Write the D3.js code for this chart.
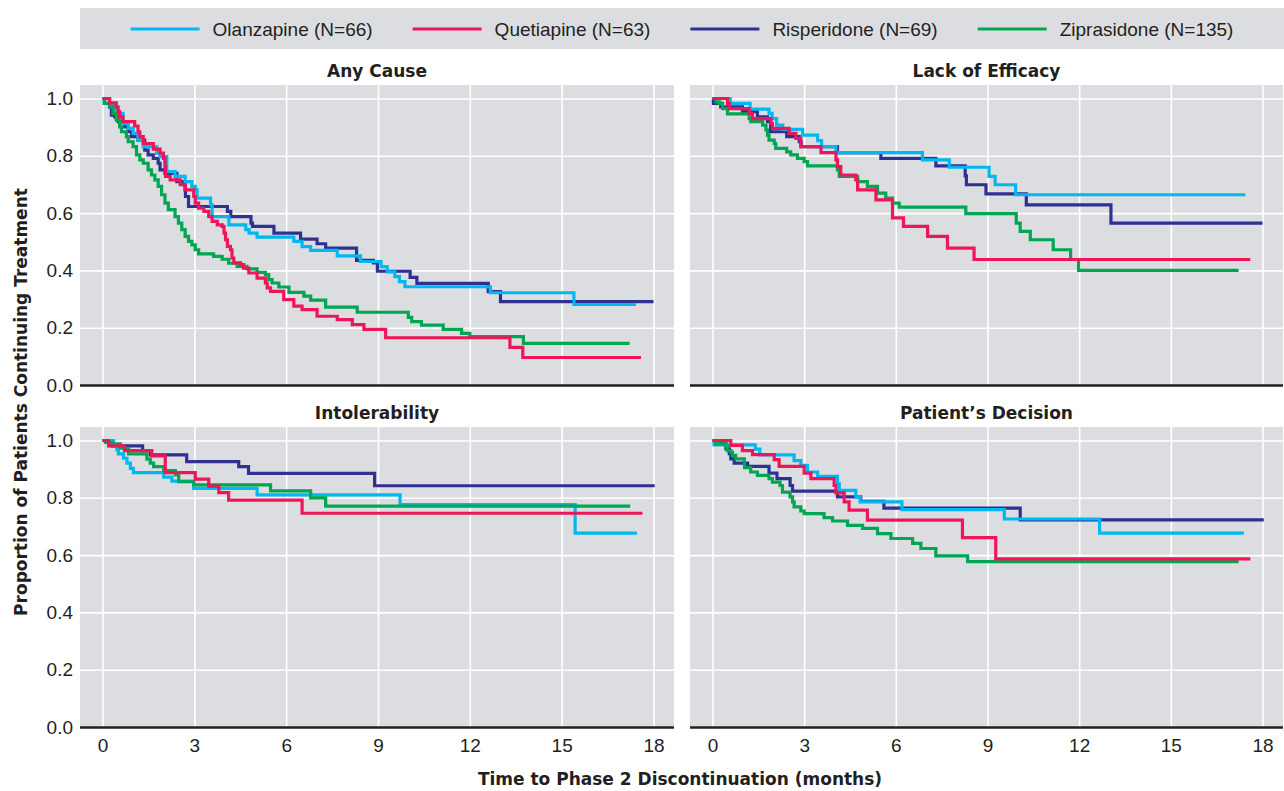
<!DOCTYPE html>
<html>
<head>
<meta charset="utf-8">
<script src="https://cdn.jsdelivr.net/npm/d3@7"></script>
<style>
    body { margin: 0; background: #ffffff; }
    svg text { font-family: "Liberation Sans", Arial, sans-serif; fill: #231f20; }
    svg text.bold { font-family: "DejaVu Sans", sans-serif; font-weight: bold; font-size: 17px; }
</style>
</head>
<body>
<div id="chart"></div>
<script>
// Tick values and labels
const months = [0, 3, 6, 9, 12, 15, 18];
const proportions = [0, 0.2, 0.4, 0.6, 0.8, 1.0];
const drugNames = ['Olanzapine (N=66)', 'Quetiapine (N=63)', 'Risperidone (N=69)', 'Ziprasidone (N=135)'];
const panelTitles = ['Any Cause', 'Lack of Efficacy', 'Intolerability', 'Patient\u2019s Decision'];

// Kaplan-Meier steps: [month, proportion after the step]
const anyCauseOlanzapine = [[0, 1], [0.05, 0.983], [0.23, 0.977], [0.4, 0.959], [0.51, 0.948], [0.67, 0.913], [0.84, 0.896], [1.0, 0.878], [1.16, 0.855], [1.33, 0.832], [1.77, 0.809], [1.88, 0.797], [2.1, 0.745], [2.37, 0.728], [2.7, 0.71], [2.92, 0.693], [3.03, 0.681], [3.09, 0.652], [3.53, 0.629], [3.58, 0.588], [4.13, 0.559], [4.68, 0.542], [4.79, 0.53], [5.05, 0.516], [6.25, 0.501], [6.52, 0.483], [6.8, 0.47], [7.67, 0.451], [8.43, 0.431], [9.1, 0.413], [9.3, 0.395], [9.55, 0.378], [9.7, 0.361], [9.88, 0.343], [12.67, 0.322], [15.4, 0.281], [17.43, 0.281]];
const anyCauseQuetiapine = [[0, 1], [0.23, 0.985], [0.45, 0.971], [0.51, 0.954], [0.56, 0.936], [0.67, 0.919], [1.05, 0.904], [1.16, 0.884], [1.22, 0.867], [1.33, 0.843], [1.66, 0.823], [1.88, 0.809], [1.99, 0.791], [2.04, 0.762], [2.06, 0.728], [2.21, 0.716], [2.54, 0.699], [2.7, 0.681], [2.98, 0.658], [3.03, 0.635], [3.14, 0.617], [3.31, 0.606], [3.47, 0.588], [3.58, 0.571], [3.75, 0.559], [3.91, 0.554], [3.97, 0.53], [4.02, 0.507], [4.08, 0.484], [4.18, 0.472], [4.23, 0.443], [4.29, 0.426], [4.51, 0.42], [4.61, 0.408], [4.78, 0.391], [5.05, 0.373], [5.32, 0.356], [5.38, 0.339], [5.49, 0.327], [5.92, 0.298], [6.25, 0.275], [6.52, 0.263], [7.01, 0.24], [7.67, 0.228], [8.16, 0.211], [8.54, 0.194], [9.25, 0.165], [13.31, 0.131], [13.73, 0.096], [17.59, 0.096]];
const anyCauseRisperidone = [[0, 1], [0.23, 0.971], [0.29, 0.942], [0.4, 0.936], [0.51, 0.919], [0.73, 0.901], [0.84, 0.884], [0.95, 0.867], [1.16, 0.855], [1.38, 0.82], [1.49, 0.803], [1.66, 0.791], [1.82, 0.774], [1.88, 0.751], [2.04, 0.739], [2.43, 0.71], [2.65, 0.699], [2.7, 0.681], [2.71, 0.658], [2.81, 0.623], [4.08, 0.606], [4.19, 0.588], [4.85, 0.565], [4.9, 0.554], [5.6, 0.53], [6.47, 0.509], [7.01, 0.493], [7.29, 0.478], [8.3, 0.435], [8.85, 0.426], [8.98, 0.397], [10.05, 0.376], [10.27, 0.355], [12.6, 0.326], [13.0, 0.291], [18.0, 0.291]];
const anyCauseZiprasidone = [[0, 1], [0.07, 0.983], [0.23, 0.971], [0.34, 0.948], [0.45, 0.925], [0.56, 0.901], [0.62, 0.884], [0.78, 0.867], [0.84, 0.849], [1.0, 0.832], [1.11, 0.803], [1.22, 0.786], [1.33, 0.774], [1.49, 0.751], [1.6, 0.733], [1.71, 0.716], [1.82, 0.693], [1.93, 0.664], [2.04, 0.635], [2.15, 0.612], [2.37, 0.588], [2.48, 0.565], [2.59, 0.542], [2.7, 0.519], [2.81, 0.501], [2.92, 0.489], [3.03, 0.472], [3.14, 0.458], [3.63, 0.449], [3.91, 0.439], [4.12, 0.425], [4.4, 0.414], [4.72, 0.405], [5.05, 0.393], [5.32, 0.385], [5.43, 0.368], [5.54, 0.356], [5.76, 0.342], [6.09, 0.323], [6.58, 0.31], [6.8, 0.296], [7.29, 0.272], [8.32, 0.254], [9.99, 0.236], [10.1, 0.221], [10.42, 0.209], [11.13, 0.194], [11.73, 0.18], [12.0, 0.169], [13.75, 0.145], [17.22, 0.145]];

const efficacyOlanzapine = [[0, 1], [0.58, 0.983], [1.23, 0.963], [1.85, 0.948], [1.95, 0.93], [2.1, 0.907], [2.3, 0.892], [2.95, 0.872], [3.44, 0.853], [3.57, 0.832], [4.04, 0.811], [6.87, 0.786], [7.75, 0.76], [9.05, 0.728], [9.25, 0.699], [9.92, 0.664], [17.44, 0.664]];
const efficacyQuetiapine = [[0, 1], [0.49, 0.983], [0.55, 0.965], [1.2, 0.948], [1.31, 0.93], [1.91, 0.913], [1.96, 0.896], [2.51, 0.878], [2.73, 0.861], [2.89, 0.832], [3.55, 0.811], [4.04, 0.786], [4.09, 0.762], [4.2, 0.733], [4.69, 0.716], [4.75, 0.681], [5.35, 0.646], [5.89, 0.583], [6.25, 0.554], [7.04, 0.519], [7.69, 0.478], [8.56, 0.438], [17.6, 0.438]];
const efficacyRisperidone = [[0, 1], [0.03, 0.983], [0.27, 0.971], [0.98, 0.954], [1.47, 0.936], [1.8, 0.919], [1.9, 0.884], [2.43, 0.867], [2.84, 0.849], [2.9, 0.832], [4.09, 0.811], [5.51, 0.791], [7.31, 0.765], [8.27, 0.73], [8.31, 0.699], [8.95, 0.667], [10.27, 0.629], [13.04, 0.565], [18.0, 0.565]];
const efficacyZiprasidone = [[0, 1], [0.11, 0.988], [0.22, 0.983], [0.33, 0.965], [0.49, 0.946], [1.2, 0.93], [1.25, 0.919], [1.64, 0.907], [1.75, 0.89], [1.8, 0.872], [1.85, 0.855], [2.02, 0.843], [2.07, 0.826], [2.43, 0.814], [2.56, 0.803], [2.78, 0.791], [3.0, 0.78], [3.11, 0.765], [4.09, 0.751], [4.15, 0.728], [4.75, 0.71], [5.07, 0.693], [5.4, 0.67], [5.67, 0.652], [5.89, 0.635], [6.11, 0.621], [8.29, 0.598], [9.94, 0.565], [10.07, 0.536], [10.4, 0.507], [11.15, 0.472], [11.72, 0.438], [11.98, 0.4], [17.22, 0.4]];

const intolerabilityOlanzapine = [[0, 1], [0.36, 0.981], [0.47, 0.967], [0.52, 0.953], [0.69, 0.938], [0.8, 0.921], [0.91, 0.903], [1.01, 0.888], [2.0, 0.872], [2.27, 0.858], [2.98, 0.833], [5.05, 0.81], [9.72, 0.776], [15.44, 0.677], [17.46, 0.677]];
const intolerabilityQuetiapine = [[0, 1], [0.2, 0.981], [0.72, 0.965], [1.61, 0.946], [2.05, 0.888], [3.03, 0.865], [3.47, 0.841], [3.8, 0.818], [4.12, 0.792], [6.52, 0.746], [17.64, 0.746]];
const intolerabilityRisperidone = [[0, 1], [0.29, 0.981], [1.31, 0.965], [1.56, 0.95], [2.75, 0.926], [4.45, 0.909], [4.77, 0.885], [8.89, 0.842], [18.04, 0.842]];
const intolerabilityZiprasidone = [[0, 1], [0.09, 0.993], [0.31, 0.988], [0.58, 0.973], [0.85, 0.953], [1.45, 0.935], [1.56, 0.921], [1.67, 0.909], [2.0, 0.895], [2.38, 0.88], [2.49, 0.856], [2.98, 0.845], [5.49, 0.824], [6.8, 0.8], [7.29, 0.771], [17.24, 0.771]];

const decisionOlanzapine = [[0, 1], [0.05, 0.985], [1.4, 0.97], [1.55, 0.95], [2.67, 0.93], [2.89, 0.913], [3.11, 0.89], [3.44, 0.875], [4.09, 0.849], [4.15, 0.826], [4.69, 0.803], [4.83, 0.786], [6.2, 0.759], [9.55, 0.726], [12.67, 0.677], [17.39, 0.677]];
const decisionQuetiapine = [[0, 1], [0.6, 0.983], [0.98, 0.965], [1.31, 0.951], [2.02, 0.933], [2.18, 0.91], [3.0, 0.886], [3.22, 0.867], [3.98, 0.843], [4.04, 0.817], [4.31, 0.786], [4.47, 0.757], [5.07, 0.722], [8.18, 0.661], [9.27, 0.587], [17.6, 0.587]];
const decisionRisperidone = [[0, 1], [0.27, 0.988], [0.44, 0.971], [0.55, 0.954], [0.6, 0.936], [0.71, 0.921], [1.15, 0.91], [1.85, 0.886], [2.11, 0.867], [2.54, 0.843], [2.62, 0.823], [4.09, 0.803], [4.85, 0.788], [5.61, 0.764], [10.07, 0.723], [18.04, 0.723]];
const decisionZiprasidone = [[0, 1], [0.11, 0.988], [0.44, 0.977], [0.49, 0.965], [0.6, 0.959], [0.65, 0.948], [0.76, 0.936], [1.04, 0.919], [1.05, 0.905], [1.25, 0.89], [1.47, 0.878], [1.85, 0.867], [1.96, 0.855], [2.21, 0.843], [2.29, 0.82], [2.54, 0.803], [2.62, 0.786], [2.67, 0.768], [2.89, 0.754], [3.0, 0.745], [3.65, 0.731], [3.93, 0.719], [4.42, 0.704], [4.91, 0.693], [5.4, 0.675], [5.84, 0.658], [6.55, 0.641], [6.82, 0.623], [7.31, 0.597], [8.35, 0.577], [17.22, 0.577]];

const drugColors = ['#00b8f1', '#ee1558', '#2e3192', '#00a651'];
const drawOrder = [2, 0, 3, 1]; // navy underneath, red on top

const width = 1284;
const height = 791;

/**
 * Draws one survival panel
 * @param svg - root selection
 * @param title - panel heading
 * @param series - four step arrays in drug order
 * @param col - 0 left, 1 right
 * @param row - 0 top, 1 bottom
 */
const drawPanel = (svg, title, series, col, row) => {
    const left = col === 0 ? 80 : 690;
    const right = col === 0 ? 674 : 1283;
    const top = row === 0 ? 85 : 427;
    const bottom = top + 301;

    const x = d3.scaleLinear().domain([0, 18]).range([left + 22.5, right - 20.5]);
    const y = d3.scaleLinear().domain([0, 1]).range([bottom - 1, top + 13.5]);

    const g = svg.append('g').attr('class', 'panel');

    g.append('rect')
        .attr('x', left)
        .attr('y', top)
        .attr('width', right - left)
        .attr('height', bottom - top)
        .attr('fill', '#dcdde0');

    // White grid
    g.append('g')
        .attr('transform', `translate(0, ${bottom})`)
        .call(d3.axisBottom(x).tickValues(months).tickSize(-(bottom - top)).tickFormat(''))
        .call(a => a.select('.domain').remove())
        .call(a => a.selectAll('line').attr('stroke', '#ffffff').attr('stroke-width', 1.6));

    g.append('g')
        .attr('transform', `translate(${left}, 0)`)
        .call(d3.axisLeft(y).tickValues(proportions.slice(1)).tickSize(-(right - left)).tickFormat(''))
        .call(a => a.select('.domain').remove())
        .call(a => a.selectAll('line').attr('stroke', '#ffffff').attr('stroke-width', 1.6));

    // Baseline at zero
    g.append('line')
        .attr('x1', left)
        .attr('x2', right)
        .attr('y1', y(0) + 0.5)
        .attr('y2', y(0) + 0.5)
        .attr('stroke', '#231f20')
        .attr('stroke-width', 2.6);

    if (col === 0) {
        g.append('g')
            .attr('transform', `translate(${left}, 0)`)
            .call(d3.axisLeft(y).tickValues(proportions).tickFormat(d3.format('.1f')).tickSize(0).tickPadding(7))
            .call(a => a.select('.domain').remove())
            .call(a => a.selectAll('text').attr('font-size', 19).attr('font-family', '"Liberation Sans", Arial, sans-serif').attr('fill', '#231f20'));
    }
    if (row === 1) {
        g.append('g')
            .attr('transform', `translate(0, ${bottom})`)
            .call(d3.axisBottom(x).tickValues(months).tickSize(0).tickPadding(11))
            .call(a => a.select('.domain').remove())
            .call(a => a.selectAll('text').attr('font-size', 19).attr('font-family', '"Liberation Sans", Arial, sans-serif').attr('fill', '#231f20'));
    }

    g.append('text')
        .attr('class', 'bold')
        .attr('x', (left + right) / 2)
        .attr('y', top - 8)
        .attr('text-anchor', 'middle')
        .text(title);

    const line = d3.line()
        .x(d => x(d[0]))
        .y(d => y(d[1]))
        .curve(d3.curveStepAfter);

    g.append('g')
        .selectAll('path')
        .data(drawOrder)
        .enter()
        .append('path')
        .attr('d', i => line(series[i]))
        .attr('fill', 'none')
        .attr('stroke', i => drugColors[i])
        .attr('stroke-width', 3.2)
        .attr('stroke-linejoin', 'miter');
};

/**
 * Legend strip across the top, items laid out by text width and centred
 */
const drawLegend = (svg) => {
    const boxLeft = 80;
    const boxRight = 1284;
    const cy = 29;
    svg.append('rect')
        .attr('x', boxLeft)
        .attr('y', 8)
        .attr('width', boxRight - boxLeft)
        .attr('height', 41)
        .attr('fill', '#dcdde0');

    const items = svg.append('g').attr('class', 'legend');
    const item = items.selectAll('g')
        .data(drugNames)
        .enter()
        .append('g');

    item.append('line')
        .attr('x1', 0)
        .attr('x2', 69)
        .attr('y1', cy)
        .attr('y2', cy)
        .attr('stroke', (d, i) => drugColors[i])
        .attr('stroke-width', 3.2);

    item.append('text')
        .attr('x', 82)
        .attr('y', cy)
        .attr('dy', '0.35em')
        .attr('font-size', 19)
        .text(d => d);

    const gap = 40;
    const widths = [];
    item.select('text').each(function () { widths.push(82 + this.getComputedTextLength()); });
    const total = d3.sum(widths) + gap * (widths.length - 1);
    let cursor = (boxLeft + boxRight) / 2 - total / 2;
    item.attr('transform', (d, i) => {
        const t = `translate(${cursor}, 0)`;
        cursor += widths[i] + gap;
        return t;
    });
};

const svg = d3.select('#chart')
    .append('svg')
    .attr('width', width)
    .attr('height', height);

drawLegend(svg);

const panelSeries = [
    [anyCauseOlanzapine, anyCauseQuetiapine, anyCauseRisperidone, anyCauseZiprasidone],
    [efficacyOlanzapine, efficacyQuetiapine, efficacyRisperidone, efficacyZiprasidone],
    [intolerabilityOlanzapine, intolerabilityQuetiapine, intolerabilityRisperidone, intolerabilityZiprasidone],
    [decisionOlanzapine, decisionQuetiapine, decisionRisperidone, decisionZiprasidone]
];

panelTitles.forEach((title, i) => {
    drawPanel(svg, title, panelSeries[i], i % 2, Math.floor(i / 2));
});

// Shared axis titles
svg.append('text')
    .attr('class', 'bold')
    .attr('transform', 'translate(27, 402) rotate(-90)')
    .attr('text-anchor', 'middle')
    .text('Proportion of Patients Continuing Treatment');

svg.append('text')
    .attr('class', 'bold')
    .attr('x', 680)
    .attr('y', 785)
    .attr('text-anchor', 'middle')
    .text('Time to Phase 2 Discontinuation (months)');
</script>
</body>
</html>
